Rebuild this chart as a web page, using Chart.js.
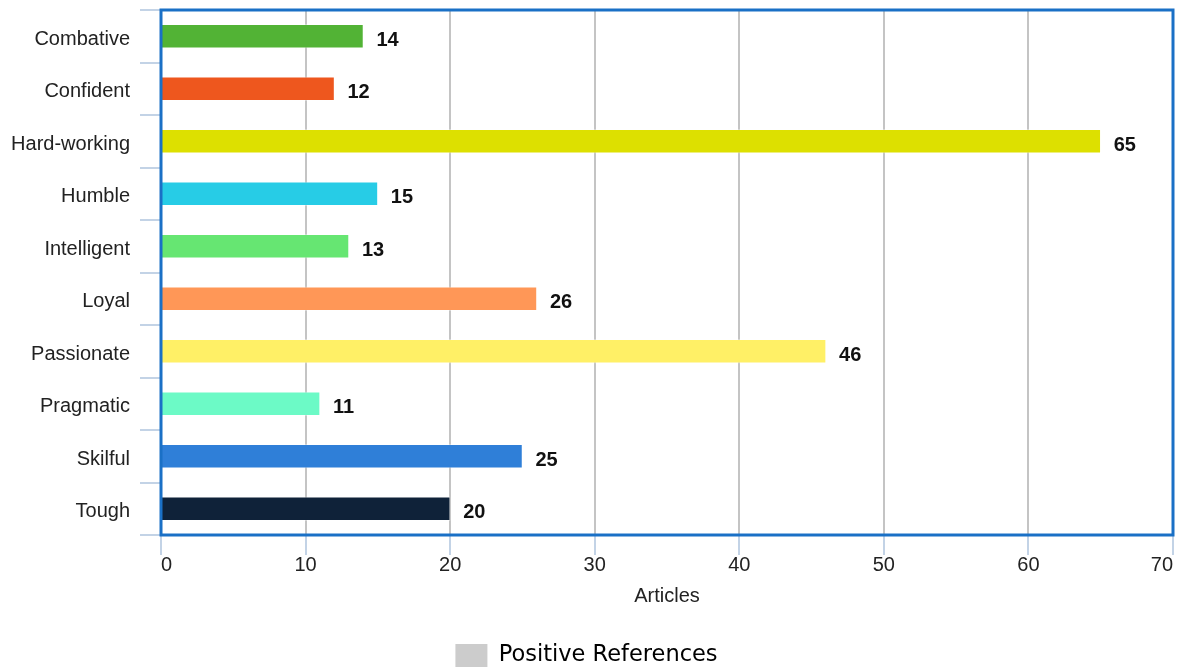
<!DOCTYPE html>
<html>
<head>
<meta charset="utf-8">
<script src="https://cdn.jsdelivr.net/npm/chart.js@4.4.1/dist/chart.umd.min.js"></script>
<style>
  html, body { margin: 0; padding: 0; background: #ffffff; }
  #wrap { width: 1180px; height: 671px; position: relative; }
</style>
</head>
<body>
<div id="wrap"><canvas id="chart"></canvas></div>
<script>
// Traits and how many articles referenced each one
const categories = ['Combative', 'Confident', 'Hard-working', 'Humble', 'Intelligent', 'Loyal', 'Passionate', 'Pragmatic', 'Skilful', 'Tough'];
const articleCounts = [14, 12, 65, 15, 13, 26, 46, 11, 25, 20];
const barColors = ['#52b335', '#ee571e', '#dde000', '#27cce6', '#66e672', '#ff9757', '#fff066', '#6cfac6', '#2f7fd8', '#0f2239'];
const xTicks = [0, 10, 20, 30, 40, 50, 60, 70];
const seriesName = 'Positive References';
const axisTitle = 'Articles';

const FONT = '"Liberation Sans", Arial, sans-serif';

// Blue frame around the plotting area
const frame = {
  id: 'frame',
  afterDatasetsDraw(chart) {
    const { ctx, chartArea: a } = chart;
    ctx.save();
    ctx.strokeStyle = '#1a70c6';
    ctx.lineWidth = 3;
    ctx.strokeRect(a.left, a.top, a.right - a.left, a.bottom - a.top);
    ctx.restore();
  }
};

// Value labels at the end of each bar
const valueLabels = {
  id: 'valueLabels',
  afterDatasetsDraw(chart) {
    const { ctx } = chart;
    const meta = chart.getDatasetMeta(0);
    ctx.save();
    ctx.font = 'bold 20px ' + FONT;
    ctx.fillStyle = '#111111';
    ctx.textAlign = 'left';
    ctx.textBaseline = 'middle';
    meta.data.forEach((bar, i) => {
      ctx.fillText(String(chart.data.datasets[0].data[i]), bar.x + 13, bar.y + 4);
    });
    ctx.restore();
  }
};

new Chart(document.getElementById('chart'), {
  type: 'bar',
  data: {
    labels: categories,
    datasets: [{
      label: seriesName,
      data: articleCounts,
      backgroundColor: barColors,
      borderColor: 'rgba(255,255,255,0.35)',
      borderWidth: 1,
      barThickness: 24
    }]
  },
  options: {
    indexAxis: 'y',
    responsive: true,
    maintainAspectRatio: false,
    animation: false,
    layout: { padding: { left: 0, right: 7, top: 10, bottom: -6 } },
    scales: {
      x: {
        min: 0,
        max: 70,
        afterBuildTicks(axis) { axis.ticks = xTicks.map(v => ({ value: v })); },
        afterFit(axis) { axis.height = 105; axis.paddingLeft = 0; axis.paddingRight = 0; },
        grid: { color: '#c4c4c4', lineWidth: 2, tickColor: '#c3d3e6', tickLength: 20 },
        border: { display: false },
        ticks: {
          color: '#222222',
          padding: -2,
          align: 'inner',
          font: { family: FONT, size: 20 }
        },
        title: {
          display: true,
          text: axisTitle,
          color: '#222222',
          padding: { top: 4, bottom: 32 },
          font: { family: FONT, size: 20 }
        }
      },
      y: {
        offset: true,
        afterFit(axis) { axis.width = 161; axis.paddingTop = 0; axis.paddingBottom = 0; },
        grid: { offset: true, drawOnChartArea: false, tickColor: '#c3d3e6', lineWidth: 2, tickLength: 21 },
        border: { display: false },
        ticks: {
          color: '#222222',
          padding: 10,
          labelOffset: 3,
          font: { family: FONT, size: 20 }
        }
      }
    },
    plugins: {
      tooltip: { enabled: false },
      legend: {
        position: 'bottom',
        labels: {
          boxWidth: 32,
          boxHeight: 23,
          padding: 4,
          color: '#333333',
          font: { family: '"DejaVu Sans", Verdana, sans-serif', size: 22.5 },
          generateLabels: () => [{ text: seriesName, fillStyle: '#cccccc', strokeStyle: '#cccccc', lineWidth: 0, datasetIndex: 0 }]
        }
      }
    }
  },
  plugins: [frame, valueLabels]
});
</script>
</body>
</html>
